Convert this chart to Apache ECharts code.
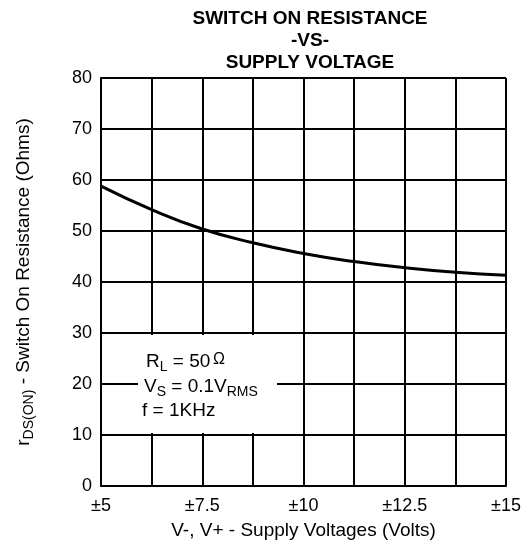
<!DOCTYPE html>
<html>
<head>
<meta charset="utf-8">
<script src="https://cdn.jsdelivr.net/npm/echarts@6/dist/echarts.min.js"></script>
<style>html,body{margin:0;padding:0;background:#fff}#c{width:531px;height:550px}</style>
</head>
<body>
<div id="c"></div>
<script>
var voltages = [5, 6.25, 7.5, 8.75, 10, 11.25, 12.5, 13.75, 15];
var resistance = [58.8, 54.2, 50.4, 47.7, 45.6, 44.0, 42.8, 41.9, 41.3];
var xTickLabels = {5: '±5', 7.5: '±7.5', 10: '±10', 12.5: '±12.5', 15: '±15'};
var yTicks = [0, 10, 20, 30, 40, 50, 60, 70, 80];

var FONT = '"Liberation Sans", Arial, sans-serif';
var chart = echarts.init(document.getElementById('c'));
var lineData = voltages.map(function (v, i) { return [v, resistance[i]]; });

chart.setOption({
  animation: false,
  backgroundColor: '#fff',
  title: {
    text: 'SWITCH ON RESISTANCE\n-VS-\nSUPPLY VOLTAGE',
    left: 305,
    top: 3,
    textAlign: 'center',
    textStyle: { fontFamily: FONT, fontSize: 19, fontWeight: 'bold', color: '#000', lineHeight: 22 }
  },
  grid: { left: 101, right: 25, top: 78, bottom: 64, containLabel: false },
  xAxis: {
    type: 'value', min: 5, max: 15, interval: 1.25,
    name: 'V-, V+ - Supply Voltages (Volts)',
    nameLocation: 'middle', nameGap: 35,
    nameTextStyle: { fontFamily: FONT, fontSize: 19, color: '#000' },
    axisLine: { show: true, lineStyle: { color: '#000', width: 2 } },
    axisTick: { show: false },
    splitLine: { show: true, lineStyle: { color: '#000', width: 2 } },
    axisLabel: {
      fontFamily: FONT, fontSize: 18, color: '#000', margin: 11,
      showMinLabel: true, showMaxLabel: true,
      formatter: function (v) { return xTickLabels[v] || ''; }
    }
  },
  yAxis: {
    type: 'value', min: yTicks[0], max: yTicks[yTicks.length - 1], interval: 10,
    name: '{a|r}{b|DS(ON)}{a| - Switch On Resistance (Ohms)}',
    nameLocation: 'middle', nameRotate: 90, nameGap: 65,
    nameTextStyle: {
      fontFamily: FONT, fontSize: 19, color: '#000',
      rich: {
        a: { fontFamily: FONT, fontSize: 19, color: '#000' },
        b: { fontFamily: FONT, fontSize: 14, color: '#000', padding: [10, 0, 0, 0] }
      }
    },
    axisLine: { show: true, lineStyle: { color: '#000', width: 2 } },
    axisTick: { show: false },
    splitLine: { show: true, lineStyle: { color: '#000', width: 2 } },
    axisLabel: { fontFamily: FONT, fontSize: 18, color: '#000', margin: 9 }
  },
  series: [{
    type: 'line',
    data: lineData,
    smooth: true,
    showSymbol: false,
    lineStyle: { color: '#000', width: 3 },
    z: 3
  }],
  graphic: [
    {
      type: 'rect', z: 50,
      shape: { x: 138, y: 335, width: 139, height: 98 },
      style: { fill: '#fff' }
    },
    {
      type: 'text', z: 51, x: 146, y: 350,
      style: {
        text: '{a|R}{b|L}{a| = 50}{d| }{c|Ω}',
        rich: {
          a: { fontFamily: FONT, fontSize: 19, fill: '#000' },
          b: { fontFamily: FONT, fontSize: 14, fill: '#000', padding: [10, 0, 0, 0] },
          c: { fontFamily: FONT, fontSize: 16, fill: '#000', padding: [0, 0, 4, 0] },
          d: { fontFamily: FONT, fontSize: 10, fill: '#000' }
        }
      }
    },
    {
      type: 'text', z: 51, x: 144, y: 375,
      style: {
        text: '{a|V}{b|S}{a| = 0.1V}{b|RMS}',
        rich: {
          a: { fontFamily: FONT, fontSize: 19, fill: '#000' },
          b: { fontFamily: FONT, fontSize: 14, fill: '#000', padding: [10, 0, 0, 0] }
        }
      }
    },
    {
      type: 'text', z: 51, x: 142, y: 401,
      style: { text: 'f = 1KHz', font: '19px "Liberation Sans", Arial, sans-serif', fill: '#000' }
    }
  ]
});
</script>
</body>
</html>
